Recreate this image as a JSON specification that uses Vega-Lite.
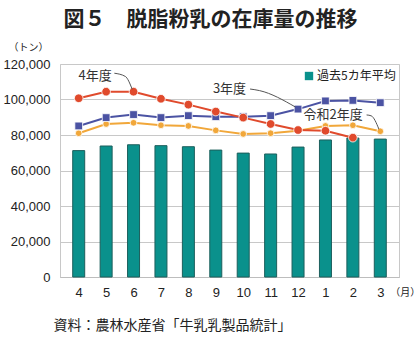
{
  "$schema": "https://vega.github.io/schema/vega-lite/v6.json",
  "autosize": {"type": "none"},
  "width": 339,
  "height": 213,
  "padding": {"left": 60, "top": 64, "right": 21, "bottom": 60},
  "title": {
    "text": "図５　脱脂粉乳の在庫量の推移",
    "font": "Noto Sans CJK JP",
    "fontSize": 21,
    "fontWeight": "bold",
    "color": "#222",
    "anchor": "middle",
    "dx": -19,
    "offset": 12
  },
  "config": {
    "view": {"stroke": "#c8c8c8"},
    "font": "Liberation Sans"
  },
  "datasets": {
    "avg": [
      {"i": 0, "month": "4", "series": "過去5カ年平均", "value": 71200},
      {"i": 1, "month": "5", "series": "過去5カ年平均", "value": 73800},
      {"i": 2, "month": "6", "series": "過去5カ年平均", "value": 74500},
      {"i": 3, "month": "7", "series": "過去5カ年平均", "value": 74000},
      {"i": 4, "month": "8", "series": "過去5カ年平均", "value": 73400},
      {"i": 5, "month": "9", "series": "過去5カ年平均", "value": 71500},
      {"i": 6, "month": "10", "series": "過去5カ年平均", "value": 69800},
      {"i": 7, "month": "11", "series": "過去5カ年平均", "value": 69300},
      {"i": 8, "month": "12", "series": "過去5カ年平均", "value": 73200},
      {"i": 9, "month": "1", "series": "過去5カ年平均", "value": 77200},
      {"i": 10, "month": "2", "series": "過去5カ年平均", "value": 78300},
      {"i": 11, "month": "3", "series": "過去5カ年平均", "value": 77700}
    ],
    "lines": [
      {"i": 0, "month": "4", "series": "令和2年度", "value": 81000},
      {"i": 1, "month": "5", "series": "令和2年度", "value": 86200},
      {"i": 2, "month": "6", "series": "令和2年度", "value": 86900},
      {"i": 3, "month": "7", "series": "令和2年度", "value": 85500},
      {"i": 4, "month": "8", "series": "令和2年度", "value": 85100},
      {"i": 5, "month": "9", "series": "令和2年度", "value": 82600},
      {"i": 6, "month": "10", "series": "令和2年度", "value": 80600},
      {"i": 7, "month": "11", "series": "令和2年度", "value": 81000},
      {"i": 8, "month": "12", "series": "令和2年度", "value": 82400},
      {"i": 9, "month": "1", "series": "令和2年度", "value": 85100},
      {"i": 10, "month": "2", "series": "令和2年度", "value": 85500},
      {"i": 11, "month": "3", "series": "令和2年度", "value": 82100},
      {"i": 0, "month": "4", "series": "3年度", "value": 85100},
      {"i": 1, "month": "5", "series": "3年度", "value": 89800},
      {"i": 2, "month": "6", "series": "3年度", "value": 91500},
      {"i": 3, "month": "7", "series": "3年度", "value": 89800},
      {"i": 4, "month": "8", "series": "3年度", "value": 90900},
      {"i": 5, "month": "9", "series": "3年度", "value": 90300},
      {"i": 6, "month": "10", "series": "3年度", "value": 90300},
      {"i": 7, "month": "11", "series": "3年度", "value": 90900},
      {"i": 8, "month": "12", "series": "3年度", "value": 94600},
      {"i": 9, "month": "1", "series": "3年度", "value": 99200},
      {"i": 10, "month": "2", "series": "3年度", "value": 99500},
      {"i": 11, "month": "3", "series": "3年度", "value": 98200},
      {"i": 0, "month": "4", "series": "4年度", "value": 100700},
      {"i": 1, "month": "5", "series": "4年度", "value": 104400},
      {"i": 2, "month": "6", "series": "4年度", "value": 104400},
      {"i": 3, "month": "7", "series": "4年度", "value": 100400},
      {"i": 4, "month": "8", "series": "4年度", "value": 97100},
      {"i": 5, "month": "9", "series": "4年度", "value": 93200},
      {"i": 6, "month": "10", "series": "4年度", "value": 89800},
      {"i": 7, "month": "11", "series": "4年度", "value": 86200},
      {"i": 8, "month": "12", "series": "4年度", "value": 82800},
      {"i": 9, "month": "1", "series": "4年度", "value": 82400},
      {"i": 10, "month": "2", "series": "4年度", "value": 78500}
    ],
    "labels": [
      {"label": "4年度", "i": 0.6, "value": 113200},
      {"label": "3年度", "i": 5.5, "value": 105900},
      {"label": "令和2年度", "i": 9.28, "value": 91300}
    ],
    "leaders": [
      {"grp": "a", "k": 0, "i": 1.3, "value": 114800},
      {"grp": "a", "k": 1, "i": 1.7, "value": 113000},
      {"grp": "a", "k": 2, "i": 1.95, "value": 105800},
      {"grp": "b", "k": 0, "i": 6.25, "value": 105900},
      {"grp": "b", "k": 1, "i": 6.6, "value": 105000},
      {"grp": "b", "k": 2, "i": 7.9, "value": 95800},
      {"grp": "c", "k": 0, "i": 10.5, "value": 91300},
      {"grp": "c", "k": 1, "i": 10.67, "value": 90800},
      {"grp": "c", "k": 2, "i": 10.95, "value": 83300}
    ],
    "unit": [
      {"label": "（月）", "i": 11, "value": 0}
    ]
  },
  "encoding": {
    "x": {
      "field": "i", "type": "quantitative",
      "scale": {"domain": [-0.5, 11.5], "nice": false, "zero": false},
      "axis": {
        "values": [0, 1, 2, 3, 4, 5, 6, 7, 8, 9, 10, 11],
        "labelExpr": "['4','5','6','7','8','9','10','11','12','1','2','3'][datum.value]",
        "labelOverlap": false,
        "ticks": false,
        "grid": false,
        "domainColor": "#bdbdbd",
        "labelFontSize": 13,
        "labelColor": "#222",
        "labelPadding": 9,
        "title": "資料：農林水産省「牛乳乳製品統計」",
        "titleFont": "Noto Sans CJK JP",
        "titleFontSize": 14,
        "titleFontWeight": "normal",
        "titleColor": "#222",
        "titleAnchor": "start",
        "titleAlign": "left",
        "titleX": -7,
        "titleY": 48,
        "titleBaseline": "middle"
      }
    },
    "y": {
      "field": "value", "type": "quantitative",
      "scale": {"domain": [0, 120000], "nice": false},
      "axis": {
        "values": [0, 20000, 40000, 60000, 80000, 100000, 120000],
        "format": ",d",
        "labelOverlap": false,
        "ticks": false,
        "domain": false,
        "gridColor": "#c8c8c8",
        "labelFontSize": 13,
        "labelColor": "#222",
        "labelPadding": 10,
        "title": "（トン）",
        "titleFont": "Noto Sans CJK JP",
        "titleFontSize": 10,
        "titleFontWeight": "normal",
        "titleColor": "#222",
        "titleAngle": 0,
        "titleAlign": "left",
        "titleBaseline": "middle",
        "titleX": -52,
        "titleY": -17
      }
    }
  },
  "layer": [
    {
      "data": {"name": "avg"},
      "mark": {"type": "bar", "size": 12, "stroke": "#1d5f5c", "strokeWidth": 1},
      "encoding": {
        "color": {
          "field": "series", "type": "nominal",
          "scale": {"domain": ["過去5カ年平均"], "range": ["#0a918c"]},
          "legend": {
            "orient": "none",
            "legendX": 243,
            "legendY": 6,
            "title": null,
            "symbolType": "square",
            "symbolSize": 70,
            "symbolStrokeWidth": 0,
            "labelFont": "Noto Sans CJK JP",
            "labelFontSize": 12,
            "labelColor": "#222",
            "labelOffset": 2
          }
        }
      }
    },
    {
      "data": {"name": "lines"},
      "mark": {"type": "line", "strokeWidth": 2},
      "encoding": {
        "color": {
          "field": "series", "type": "nominal",
          "scale": {"domain": ["令和2年度", "3年度", "4年度"], "range": ["#f1a73a", "#4b53a3", "#e04a2c"]},
          "legend": null
        }
      }
    },
    {
      "data": {"name": "lines"},
      "mark": {"type": "point", "filled": true, "stroke": "#ffffff", "strokeWidth": 0.8, "opacity": 1},
      "encoding": {
        "color": {
          "field": "series", "type": "nominal",
          "scale": {"domain": ["令和2年度", "3年度", "4年度"], "range": ["#f1a73a", "#4b53a3", "#e04a2c"]},
          "legend": null
        },
        "shape": {
          "field": "series", "type": "nominal",
          "scale": {"domain": ["令和2年度", "3年度", "4年度"], "range": ["circle", "square", "circle"]},
          "legend": null
        },
        "size": {
          "field": "series", "type": "nominal",
          "scale": {"domain": ["令和2年度", "3年度", "4年度"], "range": [45, 75, 75]},
          "legend": null
        }
      }
    },
    {
      "data": {"name": "leaders"},
      "mark": {"type": "line", "color": "#555", "strokeWidth": 1, "interpolate": "monotone"},
      "encoding": {
        "detail": {"field": "grp"},
        "order": {"field": "k"}
      }
    },
    {
      "data": {"name": "labels"},
      "mark": {"type": "text", "font": "Noto Sans CJK JP", "fontSize": 13, "color": "#333", "align": "center", "baseline": "middle"},
      "encoding": {
        "text": {"field": "label"}
      }
    },
    {
      "data": {"name": "unit"},
      "mark": {"type": "text", "font": "Noto Sans CJK JP", "fontSize": 10, "color": "#222", "align": "left", "baseline": "middle", "dx": 10, "dy": 16},
      "encoding": {
        "text": {"field": "label"}
      }
    }
  ],
  "resolve": {"scale": {"color": "independent"}}
}
